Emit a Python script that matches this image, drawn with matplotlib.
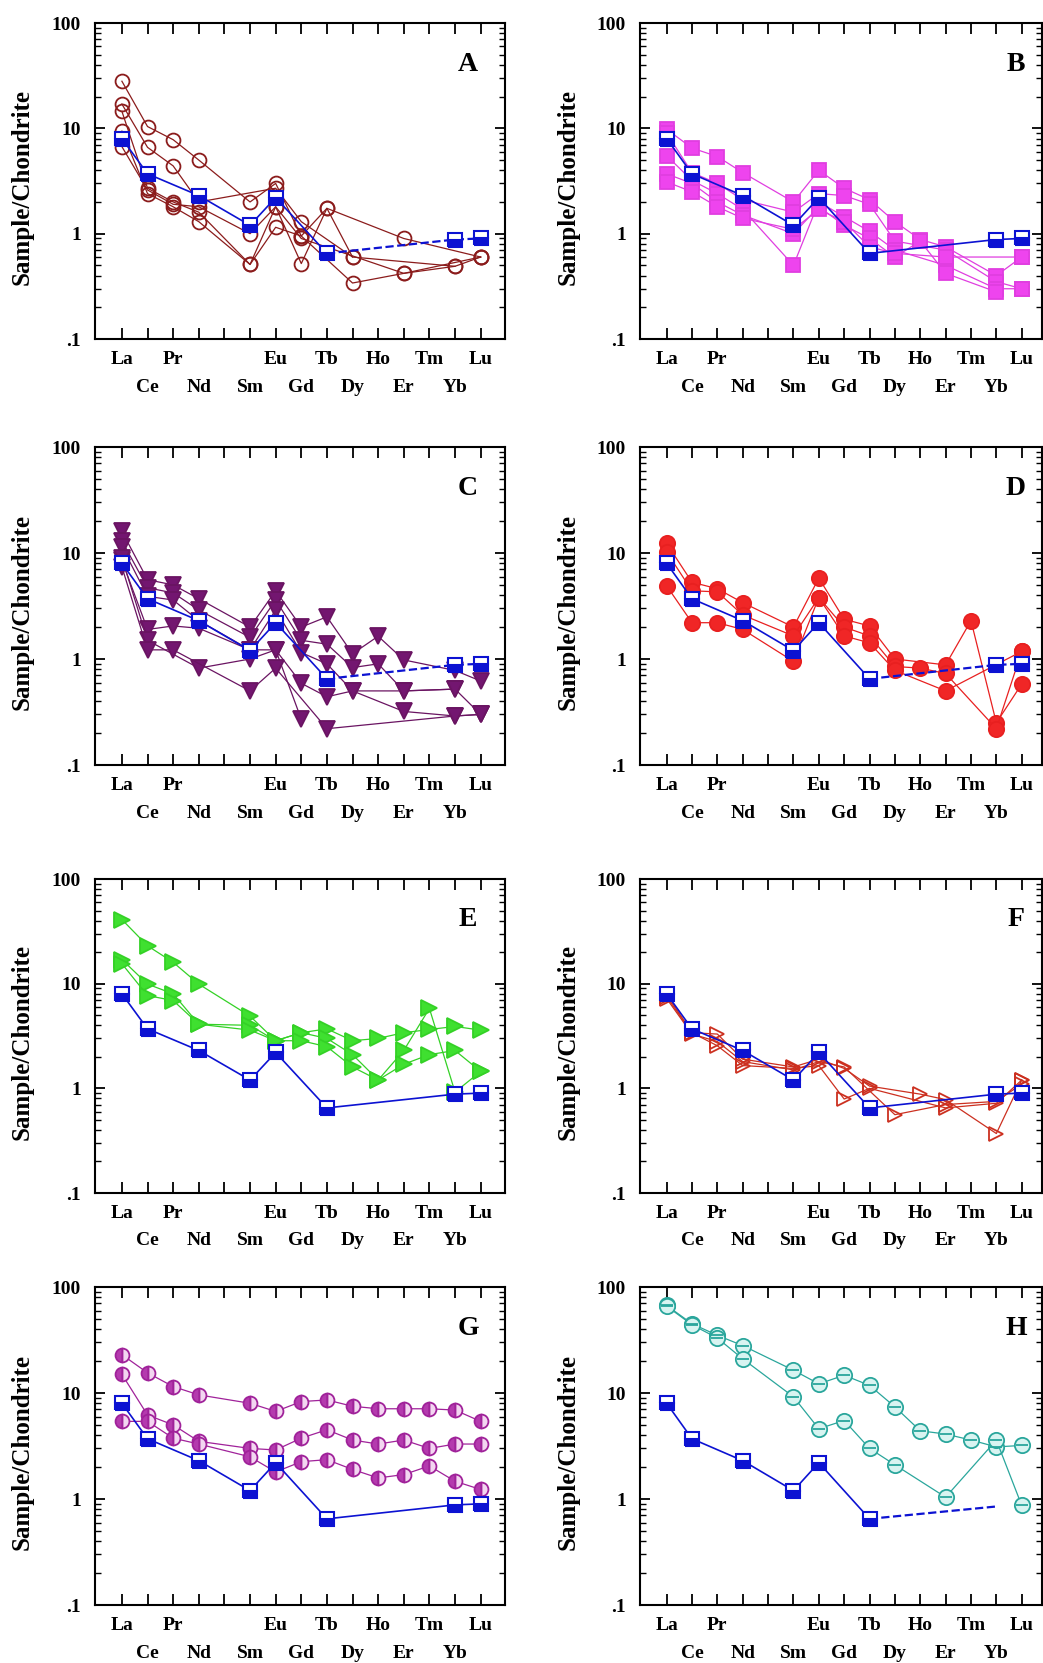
import numpy as np
import matplotlib
matplotlib.use("Agg")
import matplotlib.pyplot as plt
from matplotlib.transforms import blended_transform_factory

N = np.nan

elements = ['La', 'Ce', 'Pr', 'Nd', 'Pm', 'Sm', 'Eu', 'Gd', 'Tb', 'Dy', 'Ho', 'Er', 'Tm', 'Yb', 'Lu']
upper_labels = ['La', 'Pr', 'Eu', 'Tb', 'Ho', 'Tm', 'Lu']
lower_labels = ['Ce', 'Nd', 'Sm', 'Gd', 'Dy', 'Er', 'Yb']
ytick_values = [0.1, 1, 10, 100]
ytick_labels = ['.1', '1', '10', '100']
ylabel = 'Sample/Chondrite'

# reference sample (blue half-filled squares), same in every panel
ref = [8.0, 3.7, N, 2.3, N, 1.2, 2.2, N, 0.65, N, N, N, N, 0.88, 0.9]
ref_h = [8.0, 3.7, N, 2.3, N, 1.2, 2.2, N, 0.65, N, N, N, N, 0.85, N]

#          La    Ce    Pr   Nd   Pm  Sm    Eu   Gd    Tb    Dy    Ho    Er    Tm   Yb    Lu
panel_a = [
    [28.0, 10.4, 7.8, 5.0, N, 2.0, 3.0, 0.95, 1.74, N, N, 0.9, N, N, 0.6],
    [17.0, 6.6, 4.4, 2.0, N, N, 2.7, 1.3, N, 0.6, N, N, N, 0.49, 0.6],
    [14.5, 2.7, 2.0, 1.6, N, 0.51, 1.8, 0.52, 1.74, 0.6, N, N, N, N, N],
    [9.4, 2.4, 1.8, 1.3, N, 0.51, 1.15, 0.95, N, 0.34, N, 0.42, N, N, 0.6],
    [6.7, 2.6, 1.9, 1.8, N, 1.0, 1.8, 0.9, N, N, N, 0.42, N, 0.49, N],
]
panel_b = [
    [9.8, 6.5, 5.4, 3.8, N, 2.0, 4.0, 2.7, 2.1, 1.3, 0.88, 0.75, N, 0.4, 0.6],
    [9.0, 3.8, 3.0, 2.1, N, 1.6, 2.4, 2.3, 1.9, 0.85, N, 0.7, N, 0.35, 0.3],
    [5.5, 3.2, 2.4, 1.7, N, 0.5, 2.0, 1.45, 1.05, 0.7, N, 0.5, N, 0.3, 0.3],
    [3.7, 3.0, 2.0, 1.5, N, 1.0, 1.8, 1.2, 0.9, 0.6, 0.85, 0.42, N, 0.28, N],
    [3.1, 2.5, 1.8, 1.4, N, 1.1, 1.7, 1.3, 0.75, 0.65, N, 0.6, N, N, 0.6],
]
panel_c = [
    [16.0, 5.6, 5.0, 3.7, N, 2.0, 4.4, 2.0, 2.5, 1.12, 1.64, 0.98, N, 0.78, 0.62],
    [13.0, 4.7, 4.2, 2.9, N, 1.6, 3.6, 1.5, 1.38, 0.83, 0.9, 0.5, N, 0.52, N],
    [11.5, 3.9, 3.6, 2.3, N, 1.22, 2.9, 1.15, 0.9, 0.5, N, 0.32, N, 0.29, 0.3],
    [8.5, 1.9, 2.05, 1.95, N, 1.22, 1.22, 0.59, 0.44, 0.5, N, 0.5, N, 0.52, 0.3],
    [9.0, 1.5, N, 0.82, N, 1.0, 1.22, 0.27, N, N, N, N, N, N, N],
    [7.4, 1.22, 1.22, N, N, 0.5, 0.82, N, 0.22, N, N, N, N, 0.29, 0.3],
]
panel_d = [
    [12.3, 5.3, 4.6, 3.4, N, 2.0, 5.8, 2.37, 2.05, 1.0, N, 0.88, 2.3, 0.25, 0.58],
    [10.2, 4.4, 4.3, 2.6, N, 1.65, 3.8, 2.0, 1.65, 0.85, 0.82, 0.73, N, 0.22, 1.18],
    [4.9, 2.2, 2.2, 1.9, N, 0.95, 3.8, 1.65, 1.42, 0.78, N, 0.5, N, N, 1.18],
]
panel_e = [
    [41.0, 23.0, 16.0, 9.9, N, 4.9, 2.85, 3.4, 3.7, 2.85, 3.0, 3.4, 3.65, 3.9, 3.6],
    [17.0, 9.9, 8.0, 4.1, N, 4.0, 2.85, 3.4, 3.0, 2.1, 1.2, 2.3, 5.8, 0.92, 1.45],
    [15.5, 7.7, 6.9, 4.1, N, 3.6, 2.85, 2.85, 2.5, 1.6, 1.2, 1.7, 2.1, 2.3, 1.45],
]
panel_f = [
    [7.9, 3.4, 3.3, 1.9, N, 1.6, 1.9, 1.55, 1.05, N, 0.88, 0.78, N, 0.37, 1.2],
    [7.5, 3.4, 2.55, 1.65, N, 1.55, 1.65, 0.79, 1.0, N, N, 0.65, N, 0.72, 1.2],
    [7.2, 3.3, 2.8, 1.8, N, 1.5, 1.8, 1.6, N, 0.56, N, 0.7, N, 0.75, 1.1],
]
panel_g = [
    [23.0, 15.5, 11.5, 9.6, N, 8.0, 6.7, 8.3, 8.6, 7.5, 7.1, 7.1, 7.1, 6.9, 5.4],
    [15.0, 6.2, 5.0, 3.5, N, 3.0, 2.9, 3.75, 4.5, 3.6, 3.3, 3.6, 3.0, 3.3, 3.3],
    [5.4, 5.4, 3.75, 3.3, N, 2.5, 1.8, 2.25, 2.35, 1.9, 1.58, 1.7, 2.05, 1.47, 1.23],
]
panel_h = [
    [67.0, 45.0, 35.0, 28.0, N, 16.4, 12.2, 14.7, 11.8, 7.4, 4.4, 4.1, 3.6, 3.1, 3.2],
    [66.0, 44.0, 33.0, 21.0, N, 9.2, 4.6, 5.5, 3.0, 2.1, N, 1.04, N, 3.6, 0.87],
]

blue = '#0c12d2'
styles = {
    'A': dict(marker='o', color='#8b1c1c', mfc='none', ms=10, fill='full', alt='none'),
    'B': dict(marker='s', color='#e03ee0', mfc='#ee44ee', ms=10, fill='full', alt='none'),
    'C': dict(marker='v', color='#6a1462', mfc='#731670', ms=11, fill='full', alt='none'),
    'D': dict(marker='o', color='#e82020', mfc='#f02626', ms=11, fill='full', alt='none'),
    'E': dict(marker='>', color='#34d126', mfc='#3fe030', ms=11, fill='full', alt='none'),
    'F': dict(marker='>', color='#cc3020', mfc='none', ms=10, fill='full', alt='none'),
    'G': dict(marker='o', color='#a0229a', mfc='#b43aae', ms=10, fill='left', alt='#f3d6f1'),
    'H': dict(marker='o', color='#2aa69c', mfc='#d8f4f1', ms=11, fill='full', alt='none'),
}
panels = [('A', panel_a), ('B', panel_b), ('C', panel_c), ('D', panel_d),
          ('E', panel_e), ('F', panel_f), ('G', panel_g), ('H', panel_h)]
dashed_tail = {'A', 'C', 'D', 'H'}

plt.rcParams['font.family'] = ['Liberation Serif', 'DejaVu Serif']
plt.rcParams['font.weight'] = 'bold'

W, H = 1043, 1663
fig = plt.figure(figsize=(W / 100, H / 100), dpi=100)

cols = [(95, 505), (640, 1042)]
rows = [(23, 339), (447, 765), (879, 1193), (1287, 1605)]


def finite(vals):
    v = np.array(vals, dtype=float)
    idx = np.arange(len(v))
    m = ~np.isnan(v)
    return idx[m], v[m]


for k, (name, series) in enumerate(panels):
    r, c = divmod(k, 2)
    x0, x1 = cols[c]
    y0, y1 = rows[r]
    ax = fig.add_axes([x0 / W, 1 - y1 / H, (x1 - x0) / W, (y1 - y0) / H])

    st = styles[name]
    for s in series:
        x, y = finite(s)
        ax.plot(x, y, '-', color=st['color'], lw=0.9, marker=st['marker'],
                ms=st['ms'], mfc=st['mfc'], mec=st['color'], mew=1.3,
                fillstyle=st['fill'], markerfacecoloralt=st['alt'], zorder=3)
        if name == 'H':
            ax.plot(x, y, '_', color=st['color'], ms=8, mew=1.3, zorder=4)

    # reference sample
    rv = ref_h if name == 'H' else ref
    x, y = finite(rv)
    head = x <= 8
    tail = x >= 8
    ax.plot(x[head], y[head], '-', color=blue, lw=1.2, zorder=5)
    ax.plot(x[tail], y[tail], '--' if name in dashed_tail else '-',
            color=blue, lw=1.6 if name in dashed_tail else 1.2, zorder=5)
    mk = np.ones(len(x), bool)
    if name == 'H':
        mk[-1] = False
    ax.plot(x[mk], y[mk], 's', ls='none', ms=10, fillstyle='bottom',
            mfc=blue, mfcalt='white', mec=blue, mew=1.5, zorder=6)

    ax.set_yscale('log')
    ax.set_ylim(0.1, 100)
    ax.set_xlim(-1.05, 14.95 if c == 0 else 14.8)
    ax.set_yticks(ytick_values)
    ax.set_yticklabels(ytick_labels, fontsize=14, fontweight='bold')
    ax.set_xticks(range(len(elements)))
    ax.set_xticklabels([])
    ax.tick_params(axis='both', which='both', direction='in', top=True, right=True)
    ax.tick_params(axis='x', length=8, width=1.3)
    ax.tick_params(axis='y', which='major', length=7, width=1.3, pad=10)
    ax.tick_params(axis='y', which='minor', length=4, width=1.0)
    for sp in ax.spines.values():
        sp.set_linewidth(1.5)

    tr = blended_transform_factory(ax.transData, ax.transAxes)
    for lab in upper_labels:
        ax.text(elements.index(lab), -0.066, lab, transform=tr, ha='center', va='center',
                fontsize=14, fontweight='bold')
    for lab in lower_labels:
        ax.text(elements.index(lab), -0.152, lab, transform=tr, ha='center', va='center',
                fontsize=14, fontweight='bold')

    ax.set_ylabel(ylabel, fontsize=18, fontweight='bold')
    ax.yaxis.set_label_coords(-0.15, 0.48)
    ax.text(0.91 if c == 0 else 0.935, 0.87, name, transform=ax.transAxes, ha='center',
            va='center', fontsize=20, fontweight='bold')

fig.savefig('out.png', dpi=100, facecolor='white')
